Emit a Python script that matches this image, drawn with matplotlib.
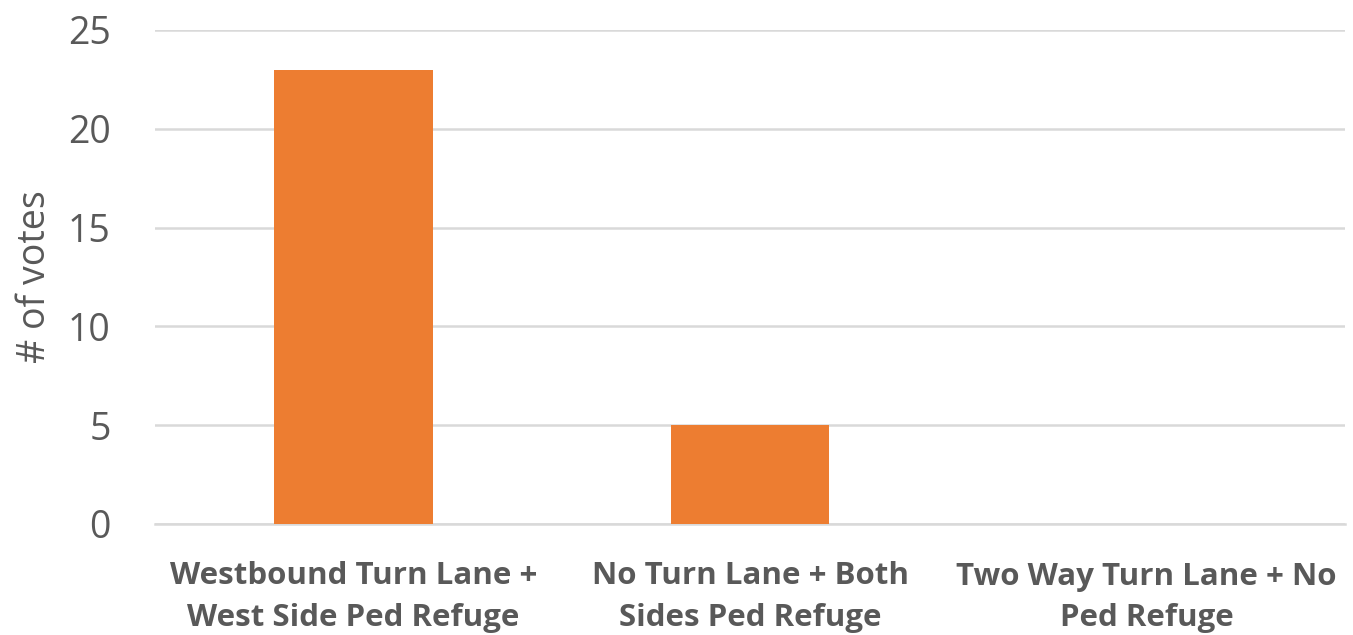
import matplotlib
matplotlib.use("Agg")
import matplotlib.pyplot as plt

categories = [
    "Westbound Turn Lane +\nWest Side Ped Refuge",
    "No Turn Lane + Both\nSides Ped Refuge",
    "Two Way Turn Lane + No\nPed Refuge",
]
votes = [23, 5, 0]
yticks = [0, 5, 10, 15, 20, 25]

BAR_COLOR = "#ED7D31"
TEXT_COLOR = "#595959"
GRID_COLOR = "#D9D9D9"

plt.rcParams["font.family"] = ["Open Sans", "DejaVu Sans"]

fig = plt.figure(figsize=(13.53, 6.35), dpi=100)
ax = fig.add_axes([155 / 1353, 1 - 524 / 635, (1345 - 155) / 1353, 494 / 635])

x = range(len(categories))
ax.bar(x, votes, width=0.4, color=BAR_COLOR, zorder=3)

ax.set_xlim(-0.5, len(categories) - 0.5)
ax.set_ylim(0, 25)
ax.set_yticks(yticks)
ax.set_yticklabels([str(v) for v in yticks], fontsize=27, color=TEXT_COLOR)
ax.set_xticks(list(x))
ax.set_xticklabels(categories, fontsize=22.5, fontweight="bold", color=TEXT_COLOR,
                   linespacing=1.5)
ax.set_ylabel("# of votes", fontsize=27, color=TEXT_COLOR, labelpad=10)

ax.grid(axis="y", color=GRID_COLOR, linewidth=1.8, zorder=0)
for side in ["top", "right", "left"]:
    ax.spines[side].set_visible(False)
ax.spines["bottom"].set_color(GRID_COLOR)
ax.spines["bottom"].set_linewidth(1.8)
ax.tick_params(axis="both", length=0)
ax.tick_params(axis="y", pad=32)
ax.tick_params(axis="x", pad=27)

fig.savefig("out.png", dpi=100)
